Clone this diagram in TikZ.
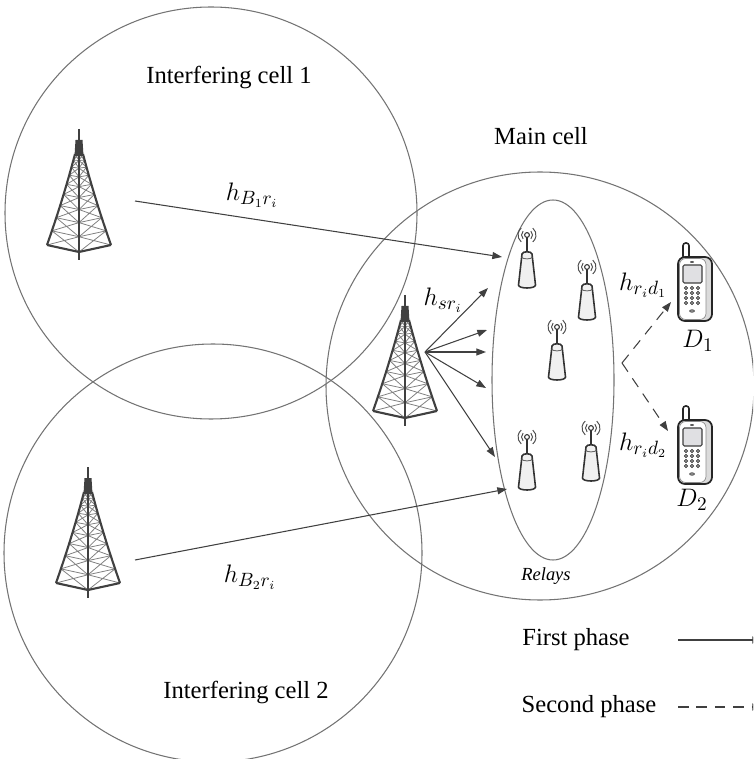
\documentclass[tikz,border=0pt]{standalone}
\usepackage{fontspec}
\setmainfont{Liberation Serif}
\usetikzlibrary{arrows.meta}

\tikzset{
  cellline/.style={draw=black!55, line width=0.6pt},
  link/.style={draw=black!75, line width=0.6pt, -{Triangle[length=5.5pt,width=4pt]}},
  link2/.style={link, dash pattern=on 6pt off 4.5pt},
  lbl/.style={font=\fontsize{14}{16}\selectfont, inner sep=0pt},
  chan/.style={font=\fontsize{15}{17}\selectfont, inner sep=0pt},
  towerleg/.style={draw=black!75, line width=1.2pt, line join=round},
  towerlat/.style={draw=black!50, line width=0.45pt},
  declare function={
    tt(\u)=\u*(0.55+0.45*\u);
    lw(\u)=4+28*tt(\u)*(0.85+0.15*tt(\u));
    ly(\u)=-106+91*tt(\u);
    cy(\u)=ly(\u)+7*tt(\u);
  },
  % lattice tower, origin at the foot of the centre leg
  tower/.pic={
    \foreach \k in {0,...,8} {
      \pgfmathsetmacro\ua{\k/9}
      \pgfmathsetmacro\ub{(\k+1)/9}
      \draw[towerlat] ({-lw(\ub)},{ly(\ub)}) -- (0,{cy(\ub)}) -- ({lw(\ub)},{ly(\ub)});
      \draw[towerlat] ({-lw(\ua)},{ly(\ua)}) -- (0,{cy(\ub)}) ({-lw(\ub)},{ly(\ub)}) -- (0,{cy(\ua)});
      \draw[towerlat] ({lw(\ua)},{ly(\ua)}) -- (0,{cy(\ub)}) ({lw(\ub)},{ly(\ub)}) -- (0,{cy(\ua)});
    }
    \draw[towerleg] plot[domain=0:1, samples=12] ({-lw(\x)},{ly(\x)});
    \draw[towerleg] plot[domain=0:1, samples=12] ({lw(\x)},{ly(\x)});
    \draw[towerleg] (0,{ly(0)}) -- (0,0);
    \draw[towerleg] ({-lw(1)},{ly(1)}) -- (0,{cy(1)}) -- ({lw(1)},{ly(1)});
    \fill[black!75] (-3.5,-120) -- (3.5,-120) -- (4.5,-104) -- (-4.5,-104) -- cycle;
    \draw[towerleg] (0,-131) -- (0,-120);
  },
  % relay antenna, origin at the radiating ball
  relay/.pic={
    \draw[black!70, line width=0.55pt] (-45:5.5) arc (-45:45:5.5) (-50:9) arc (-50:50:9);
    \draw[black!70, line width=0.55pt] (135:5.5) arc (135:225:5.5) (130:9) arc (130:230:9);
    \draw[black!80, line width=1.2pt] (0,2) -- (0,19);
    \filldraw[fill=white, draw=black!80, line width=0.6pt] (0,0) circle (2.4);
    \filldraw[fill=black!6, draw=black!80, line width=0.9pt]
      (-5,19) -- (-8.5,50) .. controls (-8.5,54) and (8.5,54) .. (8.5,50)
      -- (5,19) .. controls (5,16) and (-5,16) .. (-5,19) -- cycle;
    \draw[black!60, line width=0.5pt] (-5.3,22) .. controls (-5.3,24.5) and (5.3,24.5) .. (5.3,22);
  },
  % handset, origin at the centre of the body
  phone/.pic={
    \filldraw[fill=white, draw=black!85, line width=0.9pt, rounded corners=1.5pt] (-12,-45) rectangle (-6,-29);
    \filldraw[fill=black!14, draw=black!85, line width=1pt, rounded corners=4pt] (-17,-31) rectangle (17,33);
    \filldraw[fill=white, draw=black!45, line width=0.4pt, rounded corners=3.5pt] (-15.5,-29.5) rectangle (11,31.5);
    \filldraw[fill=blue!10!black!12, draw=black!75, line width=0.6pt, rounded corners=0.8pt] (-12,-23) rectangle (7,-5);
    \fill[black!65] (-3,-26) ellipse (2 and 1);
    \foreach \i in {-9,-3,3} \foreach \j in {0,5,10,15}
      \filldraw[fill=black!45, draw=black!75, line width=0.3pt] (\i,\j) circle (1.8);
    \filldraw[fill=black!45, draw=black!75, line width=0.3pt] (-3,23) ellipse (2.5 and 1.3);
  }
}

\begin{document}
\begin{tikzpicture}[x=0.02cm, y=-0.02cm]
\useasboundingbox (0,0) rectangle (753,759);
\clip (0,0) rectangle (753,759);

% cells and the relay cluster
\draw[cellline] (211,213) circle (206);
\draw[cellline] (213,553) circle (209);
\draw[cellline] (540,386) circle (214);
\draw[cellline] (553,380) ellipse (61 and 180);

% base stations
\pic at (79,260) {tower};
\pic at (88,598) {tower};
\pic at (405,426) {tower};

% relays
\pic at (527,235) {relay};
\pic at (587,267) {relay};
\pic at (557,327) {relay};
\pic at (527,437) {relay};
\pic at (591,428) {relay};

% destinations
\pic at (695,288) {phone};
\pic at (695,451) {phone};

% link end points
\coordinate (b1out) at (135,201);
\coordinate (b1in) at (502,257);
\coordinate (b2out) at (135,560);
\coordinate (b2in) at (507,489);
\coordinate (bsout) at (425,352);
\coordinate (s1) at (488,288);
\coordinate (s2) at (487,330);
\coordinate (s3) at (486,352);
\coordinate (s4) at (486,388);
\coordinate (s5) at (495,457);
\coordinate (rout) at (622,363);
\coordinate (d1in) at (671,302);
\coordinate (d2in) at (668,431);
\coordinate (leg1a) at (678,640);
\coordinate (leg1b) at (762,640);
\coordinate (leg2a) at (678,707);
\coordinate (leg2b) at (762,707);

% first phase links
\draw[link] (b1out) -- (b1in);
\draw[link] (b2out) -- (b2in);
\foreach \t in {s1,s2,s3,s4,s5} \draw[link] (bsout) -- (\t);

% second phase links
\draw[link2] (rout) -- (d1in);
\draw[link2] (rout) -- (d2in);

% legend
\draw[link] (leg1a) -- (leg1b);
\draw[link2] (leg2a) -- (leg2b);

% texts
\node[lbl] (cell1) at (229,78) {Interfering cell 1};
\node[lbl] (cell2) at (246,692) {Interfering cell 2};
\node[lbl] (mainc) at (541,136) {Main cell};
\node[lbl] (ph1) at (576,640) {First phase};
\node[lbl] (ph2) at (589,707) {Second phase};
\node[font=\fontsize{10.5}{12}\selectfont\itshape, inner sep=0pt] (rel) at (546,576) {Relays};
\node[chan] (hb1) at (252,195) {$h_{B_1r_i}$};
\node[chan] (hb2) at (250,577) {$h_{B_2r_i}$};
\node[chan] (hsr) at (443,300) {$h_{sr_i}$};
\node[chan] (hd1) at (643,285) {$h_{r_id_1}$};
\node[chan] (hd2) at (643,445) {$h_{r_id_2}$};
\node[chan] (dn1) at (698,341) {$D_1$};
\node[chan] (dn2) at (692,500) {$D_2$};
\end{tikzpicture}
\end{document}
